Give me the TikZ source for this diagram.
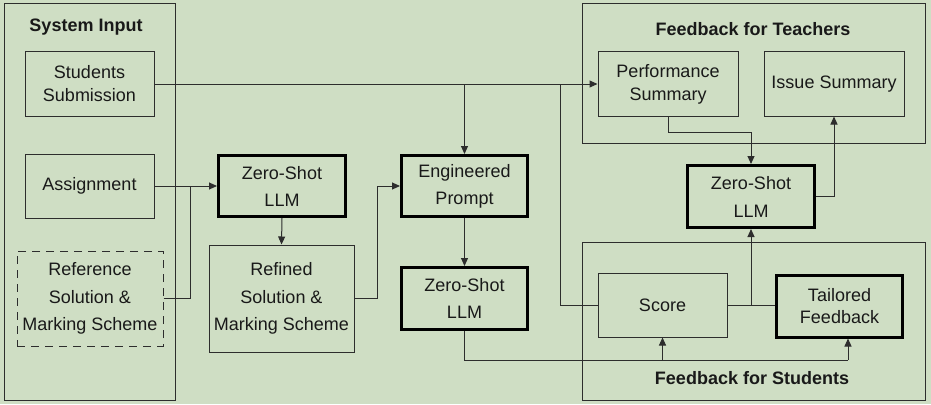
\documentclass[tikz,border=0pt]{standalone}
\usepackage{fontspec}
\setmainfont{Liberation Sans}
\usetikzlibrary{arrows.meta}
\definecolor{bg}{RGB}{207,222,196}
\definecolor{ln}{RGB}{45,45,45}
\begin{document}
\begin{tikzpicture}[x=1pt,y=-1pt,
  every node/.style={font=\fontsize{18}{23}\selectfont, text=black!90},
  box/.style={draw=ln, line width=1pt, rectangle, inner sep=0pt, align=center},
  tbox/.style={draw=black, line width=3pt, rectangle, inner sep=0pt, align=center, font=\fontsize{18}{27}\selectfont},
  frame/.style={draw=ln, line width=1pt, rectangle, inner sep=0pt},
  title/.style={font=\bfseries\fontsize{18}{23}\selectfont},
  conn/.style={draw=ln, line width=1pt},
  arr/.style={conn, -{Triangle[length=8pt,width=7pt]}}
]
\fill[bg] (0,0) rectangle (931,404);
\useasboundingbox (0,0) rectangle (931,404);

% containers
\node[frame, minimum width=171, minimum height=396] (sysin) at (89.5,202) {};
\node[title] (sysint) at (86,27) {System Input};
\node[frame, minimum width=343, minimum height=139] (teach) at (753.5,73.5) {};
\node[title] (teacht) at (753,29) {Feedback for Teachers};
\node[frame, minimum width=343, minimum height=158] (stud) at (753.5,321) {};
\node[title] (studt) at (752,378) {Feedback for Students};

% boxes
\node[box, minimum width=129, minimum height=64] (ss) at (89.5,84) {Students\\Submission};
\node[box, minimum width=129, minimum height=64] (assign) at (89.5,186) {Assignment};
\node[box, dashed, dash pattern=on 8pt off 6pt, minimum width=146, minimum height=95,
      font=\fontsize{18}{27.5}\selectfont] (ref) at (90,298.5) {Reference\\Solution \&\\Marking Scheme};
\node[tbox, minimum width=127, minimum height=61] (zs1) at (282,186) {Zero-Shot\\LLM};
\node[box, minimum width=145, minimum height=107, font=\fontsize{18}{27.5}\selectfont] (refn) at (281.5,298.5) {Refined\\Solution \&\\Marking Scheme};
\node[tbox, minimum width=126, minimum height=61] (eng) at (464.5,186) {Engineered\\Prompt};
\node[tbox, minimum width=126, minimum height=62] (zs2) at (464.5,298.5) {Zero-Shot\\LLM};
\node[box, minimum width=140, minimum height=64] (perf) at (668,84) {Performance\\Summary};
\node[box, minimum width=140, minimum height=64] (issue) at (834,84) {Issue Summary};
\node[tbox, minimum width=127, minimum height=62, font=\fontsize{18}{28}\selectfont] (zs3) at (751,196.5) {Zero-Shot\\LLM};
\node[box, minimum width=129, minimum height=64] (score) at (662.5,305) {Score};
\node[tbox, minimum width=126, minimum height=62, font=\fontsize{18}{22}\selectfont] (tail) at (839.5,306) {Tailored\\Feedback};

% junctions
\coordinate (j1) at (560,84);
\coordinate (j2) at (190,186);
\coordinate (j3) at (377,186);
\coordinate (j4) at (464.5,360);
\coordinate (j5) at (848,360);

% connectors
\draw[arr] (ss.east) -- (perf.west);
\draw[arr] (ss.east -| eng.north) -- (eng.north);
\draw[conn] (j1) |- (score.west);
\draw[arr] (assign.east) -- (zs1.west);
\draw[conn] (ref.east) -| (j2);
\draw[arr] (zs1.south) -- (refn.north);
\draw[arr] (refn.east) -| (j3) -- (eng.west);
\draw[arr] (eng.south) -- (zs2.north);
\draw[conn] (zs2.south) -- (j4) -- (j5);
\draw[arr] (score.south |- j4) -- (score.south);
\draw[arr] (j5) -- (j5 |- tail.south);
\draw[conn] (score.east) -- (score.east -| tail.west);
\draw[arr] (score.east -| zs3.south) -- (zs3.south);
\draw[arr] (perf.south) -- ++(0,16) -| (zs3.north);
\draw[arr] (zs3.east) -| (issue.south);
\end{tikzpicture}
\end{document}
